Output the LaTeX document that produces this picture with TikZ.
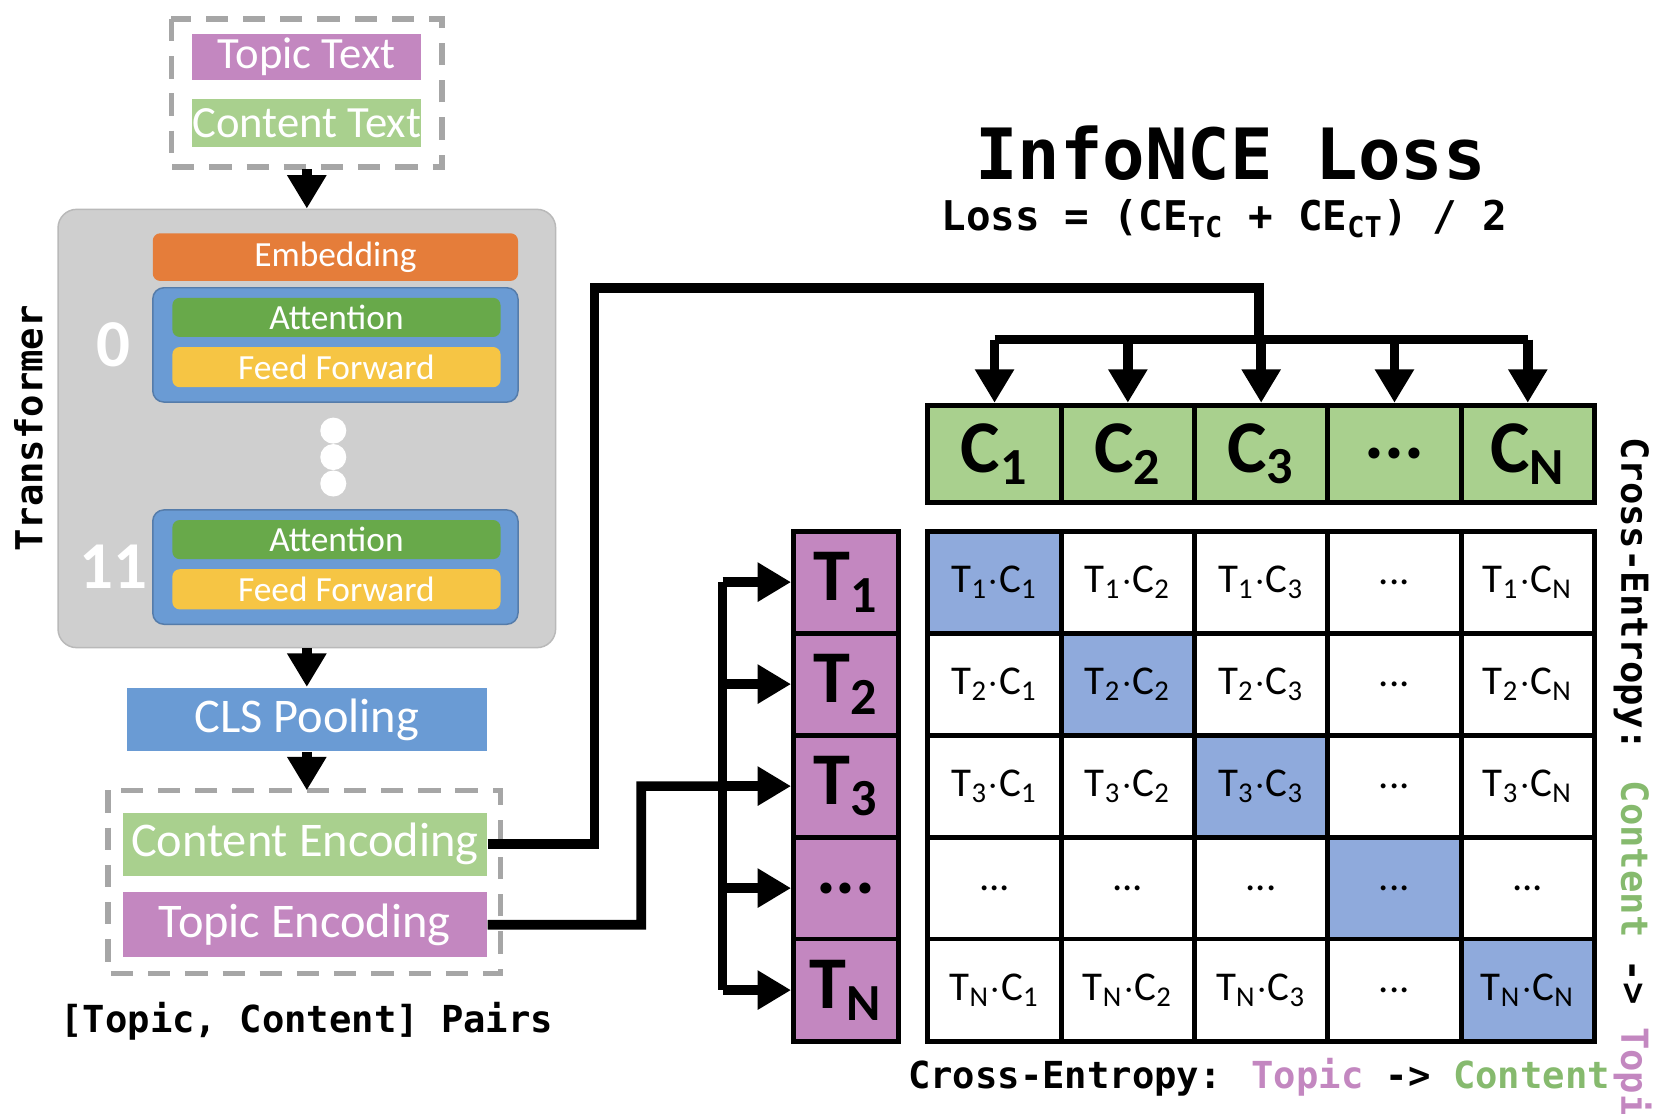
\documentclass[tikz,border=0pt]{standalone}
\usepackage{fontspec}
\setmainfont{Carlito}
\newfontfamily\mono{DejaVu Sans Mono}
\usetikzlibrary{arrows.meta,positioning}
\definecolor{topicc}{HTML}{C387C0}
\definecolor{contc}{HTML}{A9D08E}
\definecolor{embc}{HTML}{E57D3A}
\definecolor{attc}{HTML}{68A94A}
\definecolor{ffc}{HTML}{F6C544}
\definecolor{blkc}{HTML}{6A9BD4}
\definecolor{diagc}{HTML}{8FAADC}
\tikzset{
  bar/.style={draw=none, minimum height=#1, inner sep=0pt, text=white},
  dashbox/.style={draw=gray!70, dashed, line width=1.5pt, dash pattern=on 6pt off 4pt},
  flow/.style={line width=2.6pt, -{Triangle[length=9pt,width=10pt]}},
  wire/.style={line width=2.6pt},
  cell/.style={draw=black, line width=1.3pt, minimum width=1.26cm, minimum height=0.964cm, inner sep=0pt, font=\fontsize{11}{11}\selectfont},
  head/.style={cell, minimum height=0.92cm, fill=contc, font=\fontsize{20}{20}\selectfont\bfseries},
}
\newcommand{\tc}[2]{T\textsubscript{#1}$\cdot$C\textsubscript{#2}}
\newcommand{\celltext}[2]{\if D#1...\else\if D#2...\else\tc{#1}{#2}\fi\fi}
\newcommand{\hdots}{...}
\begin{document}
\begin{tikzpicture}[x=0.01cm,y=-0.01cm]
\useasboundingbox (0,0) rectangle (1568,1052);
% left column: inputs
\draw[dashbox] (162,18) rectangle (418,158);
\node[bar=0.44cm, fill=topicc, minimum width=2.16cm, font=\fontsize{12}{12}\selectfont] (topictext) at (290,54) {Topic Text};
\node[bar=0.45cm, fill=contc, minimum width=2.16cm, font=\fontsize{12}{12}\selectfont] (conttext) at (290,116) {Content Text};
\coordinate (inbot) at (290,160);
% transformer
\node[fill=gray!38, draw=gray!55, rounded corners=5pt, minimum width=4.7cm, minimum height=4.14cm] (trans) at (290,405) {};
\node[rotate=90, font=\mono\bfseries\fontsize{10}{10}\selectfont] (translabel) at (27,405) {Transformer};
\node[bar=0.45cm, fill=embc, minimum width=3.45cm, rounded corners=2pt, font=\fontsize{9.5}{9.5}\selectfont] (emb) at (317,243) {Embedding};
\foreach \n/\y/\lab in {a/326/0, b/536/11}{
  \node[fill=blkc, draw=blkc!80!black, rounded corners=3pt, minimum width=3.45cm, minimum height=1.08cm] (blk\n) at (317,\y) {};
  \node[bar=0.37cm, fill=attc, minimum width=3.1cm, rounded corners=2pt, font=\fontsize{9.5}{9.5}\selectfont] (att\n) at (318,\y-26) {Attention};
  \node[bar=0.38cm, fill=ffc, minimum width=3.1cm, rounded corners=2pt, font=\fontsize{9.5}{9.5}\selectfont] (ff\n) at (318,\y+21) {Feed Forward};
  \node[text=white, font=\bfseries\fontsize{18}{18}\selectfont] (num\n) at (107,\y) {\lab};
}
\foreach \y in {407,432,457} \fill[white] (315,\y) circle (3.5pt);
\draw[flow] (inbot) -- (trans.north);
% pooling and encodings
\node[bar=0.6cm, fill=blkc, minimum width=3.4cm, font=\fontsize{13}{13}\selectfont] (cls) at (290,680) {CLS Pooling};
\draw[flow] (trans.south) -- (cls.north);
\draw[dashbox] (102,747) rectangle (473,920);
\node[bar=0.6cm, fill=contc, minimum width=3.44cm, font=\fontsize{13}{13}\selectfont] (contenc) at (288,798) {Content Encoding};
\node[bar=0.61cm, fill=topicc, minimum width=3.44cm, font=\fontsize{13}{13}\selectfont] (topenc) at (288,874) {Topic Encoding};
\coordinate (pairtop) at (290,747);
\draw[flow] (cls.south) -- (pairtop);
\node[font=\mono\bfseries\fontsize{10}{10}\selectfont] (pairs) at (290,965) {[Topic, Content] Pairs};
% loss title
\node[font=\mono\bfseries\fontsize{19}{19}\selectfont] (title) at (1163,145) {InfoNCE Loss};
\node[font=\mono\bfseries\fontsize{11}{11}\selectfont] (formula) at (1157,207) {Loss = (CE\textsubscript{TC} + CE\textsubscript{CT}) / 2};
% content header row
\foreach \l [count=\i] in {C\textsubscript{1},C\textsubscript{2},C\textsubscript{3},\hdots,C\textsubscript{N}}
  \node[head] (c\i) at (877+126*\i-63,429) {\l};
% topic column
\foreach \l [count=\j] in {T\textsubscript{1},T\textsubscript{2},T\textsubscript{3},\hdots,T\textsubscript{N}}
  \node[cell, minimum width=0.99cm, fill=topicc, font=\fontsize{20}{20}\selectfont\bfseries] (t\j) at (799.5,502+96.4*\j-48.2) {\l};
% similarity grid
\foreach \r [count=\j] in {1,2,3,D,N}{
  \foreach \c [count=\i] in {1,2,3,D,N}{
    \node[cell, fill=white] (m\j\i) at (877+126*\i-63,502+96.4*\j-48.2) {\celltext{\r}{\c}};
  }
  \node[cell, fill=diagc] at (m\j\j) {\celltext{\r}{\r}};
}
% content branch
\coordinate (cbus) at (1190,321);
\draw[wire] (contenc.east) -- (562,798) -- (562,272) -- (1190,272) -- (cbus);
\draw[wire] (c1.north |- cbus) -- (c5.north |- cbus);
\foreach \i in {1,...,5} \draw[flow] (c\i.north |- cbus) -- (c\i.north);
% topic branch
\coordinate (tbus) at (683,0);
\draw[wire] (topenc.east) -- (606,874) -- (606,743) -- (t3.west -| tbus);
\draw[wire] (t1.west -| tbus) -- (t5.west -| tbus);
\foreach \j in {1,...,5} \draw[flow] (t\j.west -| tbus) -- (t\j.west);
% cross-entropy labels
\node[font=\mono\bfseries\fontsize{10}{10}\selectfont] (cetc) at (1190,1018) {Cross-Entropy: \textcolor{topicc}{Topic} -> \textcolor{attc!80}{Content}};
\node[rotate=-90, font=\mono\bfseries\fontsize{10}{10}\selectfont] (cect) at (1543,745) {Cross-Entropy: \textcolor{attc!80}{Content} -> \textcolor{topicc}{Topic}};
\end{tikzpicture}
\end{document}
